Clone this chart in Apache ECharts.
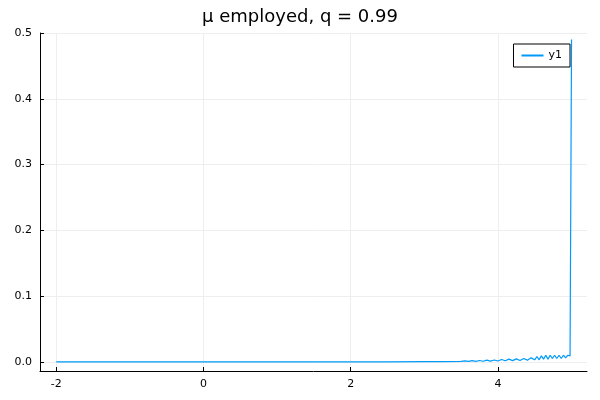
<!DOCTYPE html><html><head><meta charset="utf-8"><script src="https://cdn.jsdelivr.net/npm/echarts@6/dist/echarts.min.js"></script></head><body style="margin:0"><div id="c" style="width:600px;height:400px"></div><script>
const xs=[-2,-1.5,-1,-0.5,0,0.5,1,1.5,2,2.5,3,3.25,3.5,3.55,3.6,3.65,3.7,3.75,3.8,3.85,3.9,3.95,4,4.05,4.1,4.15,4.2,4.25,4.3,4.35,4.4,4.45,4.5,4.53,4.56,4.59,4.62,4.65,4.68,4.71,4.74,4.77,4.8,4.83,4.86,4.89,4.92,4.95,4.98,5];
const ys=[0,0,0,0,0,0,0,0,0,0,0.0002,0.0003,0.0005,0.0015,0.0006,0.0018,0.0007,0.002,0.0008,0.0025,0.001,0.0028,0.0012,0.0035,0.0015,0.004,0.0018,0.0045,0.002,0.005,0.0025,0.006,0.003,0.008,0.003,0.009,0.004,0.01,0.004,0.01,0.005,0.01,0.005,0.01,0.005,0.01,0.006,0.01,0.009,0.49];
const xTicks=[-2,0,2,4], yTicks=[0,0.1,0.2,0.3,0.4,0.5];
const c=echarts.init(document.getElementById('c'));
const ax={color:'#000',fontSize:11,fontFamily:'DejaVu Sans'};
c.setOption({animation:false,
title:{text:'μ employed, q = 0.99',left:'center',top:3,textStyle:{fontSize:18,fontWeight:'normal',fontFamily:'DejaVu Sans',color:'#000'}},
legend:{right:30,top:44,orient:'vertical',itemWidth:22,itemHeight:2,borderColor:'#000',borderWidth:1,borderRadius:0,padding:[6,8],textStyle:{fontSize:11,color:'#000',fontFamily:'DejaVu Sans'},icon:'rect'},
grid:{left:40,right:13,top:33,bottom:29},
xAxis:{type:'value',min:-2.22,max:5.21,axisLine:{onZero:false,lineStyle:{color:'#000'}},axisTick:{customValues:xTicks,length:4,inside:true,lineStyle:{color:'#000'}},axisLabel:Object.assign({customValues:xTicks},ax),splitLine:{show:true,lineStyle:{color:'#eee'}}},
yAxis:{type:'value',min:-0.014,max:0.5,axisLine:{show:true,onZero:false,lineStyle:{color:'#000'}},axisTick:{show:true,customValues:yTicks,length:4,inside:true,lineStyle:{color:'#000'}},axisLabel:Object.assign({customValues:yTicks,formatter:v=>v.toFixed(1)},ax),splitLine:{show:true,lineStyle:{color:'#eee'}}},
series:[{name:'y1',type:'line',showSymbol:false,data:xs.map((x,i)=>[x,ys[i]]),lineStyle:{color:'#009af9',width:1.2},itemStyle:{color:'#009af9'}}]});
</script></body></html>
